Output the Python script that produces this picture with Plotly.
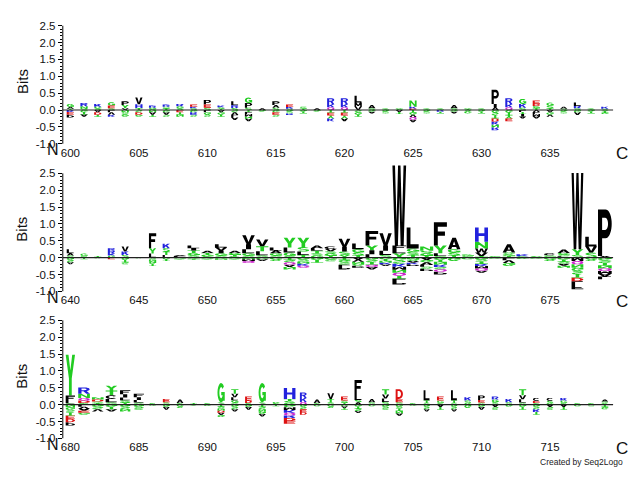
import math
import plotly.graph_objects as go

# ---------------- data ----------------
panel_starts = [600, 640, 680]
x_tick_vals = [[600, 605, 610, 615, 620, 625, 630, 635],
               [640, 645, 650, 655, 660, 665, 670, 675],
               [680, 685, 690, 695, 700, 705, 710, 715]]
y_tick_vals = [-1.0, -0.5, 0.0, 0.5, 1.0, 1.5, 2.0, 2.5]
y_tick_text = ["-1.0", "-0.5", "0.0", "0.5", "1.0", "1.5", "2.0", "2.5"]
y_minor_vals = [-0.9, -0.8, -0.7, -0.6, -0.4, -0.3, -0.2, -0.1, 0.1, 0.2, 0.3, 0.4,
                0.6, 0.7, 0.8, 0.9, 1.1, 1.2, 1.3, 1.4, 1.6, 1.7, 1.8, 1.9,
                2.1, 2.2, 2.3, 2.4]

# positive stacks (bottom -> top) and negative stacks (zero -> down), positions 600-639
p1_pos_letters = ["TAG", "SNR", "SGK", "SEG", "VYP", "THV", "SGR", "TSR", "SGR", "SKE",
                  "SEP", "TSK", "SRL", "SPG", "A", "SAP", "SKE", "TS", "A", "QKR",
                  "QKR", "VML", "SA", "TS", "SG", "EKN", "TS", "TS", "SA", "TG",
                  "TS", "AIP", "QKR", "SKG", "TGDE", "TSG", "SA", "SRL", "TS", "SK"]
p1_pos_bits = [[.04, .05, .09], [.04, .07, .10], [.05, .05, .08], [.05, .08, .10], [.05, .10, .11],
               [.06, .11, .20], [.03, .04, .06], [.05, .05, .06], [.05, .06, .07], [.05, .05, .06],
               [.07, .09, .14], [.04, .04, .05], [.06, .08, .12], [.07, .14, .16], [.05],
               [.07, .08, .11], [.04, .05, .07], [.04, .06], [.05], [.08, .09, .18],
               [.08, .09, .18], [.10, .12, .20], [.05, .10], [.02, .03], [.02, .03],
               [.04, .06, .18], [.02, .03], [.02, .03], [.05, .10], [.02, .03],
               [.02, .03], [.08, .10, .42], [.08, .09, .18], [.07, .11, .15], [.06, .06, .06, .10],
               [.05, .08, .09], [.04, .06], [.05, .07, .10], [.02, .03], [.04, .06]]
p1_neg_letters = ["KEP", "GTA", "ADT", "LVK", "NSG", "SDG", "NAT", "GAS", "ETN", "GRS",
                  "LGS", "AGT", "SVLA", "TLMNA", "G", "GES", "GSR", "GT", "G", "TEYK",
                  "TEYA", "SGT", "GA", "GS", "AT", "TGVQA", "GS", "RT", "GA", "SG",
                  "GT", "GSTDKNR", "GTYE", "LTIA", "VLMA", "AGV", "GS", "GA", "GT", "STG"]
p1_neg_bits = [[.06, .07, .09], [.07, .06, .07], [.07, .07, .06], [.07, .07, .06], [.07, .07, .06],
               [.07, .07, .06], [.07, .07, .06], [.07, .07, .06], [.07, .07, .06], [.07, .07, .06],
               [.07, .07, .06], [.07, .07, .06], [.07, .07, .08, .08], [.06, .06, .07, .07, .07], [.05],
               [.07, .07, .06], [.05, .05, .05], [.05, .05], [.05], [.08, .08, .09, .08],
               [.08, .08, .09, .08], [.07, .07, .06], [.05, .05], [.05, .05], [.06, .06],
               [.07, .07, .07, .08, .07], [.05, .05], [.05, .05], [.05, .05], [.05, .05],
               [.05, .05], [.08, .08, .09, .09, .09, .09, .08], [.08, .08, .09, .08], [.06, .06, .07, .06],
               [.06, .06, .07, .06], [.07, .07, .06], [.05, .05], [.07, .08], [.05, .05], [.04, .04, .04]]
p1_col_frac = [0.53] * 40

# positions 640-679
p2_pos_letters = ["SAL", "SG", "T", "GKRR", "SKV", "S", "LYF", "LTSK", "SLA", "SGTIL",
                  "SGTA", "SGIVL", "STGA", "SGLIV", "SLTV", "SGAL", "SGLY", "TLSY", "GSTLA", "TGSVC",
                  "YSIV", "TSGL", "LIYF", "SLIV", "YLFW", "TSGL", "TGSN", "SLYF", "TSGA", "SG",
                  "TVWNH", "S", "TGSA", "SK", "TS", "SGC", "LSGA", "SYW", "SVL", "AP"]
p2_pos_bits = [[.06, .07, .12], [.05, .07], [.05], [.06, .07, .07, .08], [.08, .10, .15],
               [.02], [.12, .16, .44], [.08, .10, .10, .13], [.02, .03, .03], [.07, .07, .07, .07, .08],
               [.04, .05, .05, .06], [.06, .07, .08, .09, .10], [.04, .05, .05, .06], [.06, .07, .12, .15, .26],
               [.07, .12, .15, .20], [.06, .07, .08, .09], [.05, .10, .15, .29], [.08, .10, .13, .28],
               [.06, .07, .07, .08, .08], [.06, .06, .07, .07, .07],
               [.08, .10, .14, .24], [.07, .08, .10, .17], [.10, .12, .14, .43], [.08, .12, .16, .36],
               [.13, .10, .13, 2.37], [.08, .09, .10, .62], [.06, .07, .07, .13], [.05, .08, .23, .69],
               [.07, .08, .10, .34], [.05, .05],
               [.05, .10, .12, .20, .42], [.05], [.05, .05, .05, .25], [.04, .06], [.02, .03],
               [.03, .04, .06], [.04, .05, .05, .10], [.08, .17, 2.26], [.15, .18, .29], [.05, 1.38]]
p2_neg_letters = ["GSA", "T", "G", "E", "GTS", "G", "SNGT", "GT", "GS", "GT",
                  "GS", "GN", "GS", "NMQ", "GA", "GS", "TSQAN", "GSNKQ", "GT", "GS",
                  "TGSLP", "AVNGP", "GSTQA", "GTNKA", "GSKMNQTLP", "NSAKP", "AGVLSP", "GTNKSQP", "G", "G",
                  "GSTKMQA", "G", "LVG", "G", "G", "GS", "GTSAN", "MQNGSTDLF", "GS", "GSTNQMAL"]
p2_neg_bits = [[.07, .07, .06], [.05], [.02], [.05], [.07, .07, .06],
               [.02], [.06, .06, .07, .06], [.05, .05], [.03, .03], [.03, .03],
               [.03, .03], [.03, .03], [.03, .03], [.05, .05, .06], [.05, .05],
               [.05, .05], [.07, .07, .07, .07, .07], [.06, .06, .06, .06, .06], [.07, .08], [.05, .06],
               [.07, .07, .07, .07, .07], [.06, .06, .06, .06, .06], [.07, .07, .07, .07, .07],
               [.05, .05, .05, .05, .05], [.09, .09, .09, .09, .09, .09, .09, .09, .08],
               [.05, .05, .05, .05, .05], [.07, .07, .07, .06, .06, .07], [.07, .07, .07, .07, .07, .07, .08],
               [.10], [.05],
               [.06, .06, .07, .06, .07, .07, .06], [.03], [.08, .08, .09], [.04], [.03],
               [.05, .05], [.06, .06, .06, .06, .06], [.10, .10, .10, .10, .10, .10, .10, .12, .12],
               [.05, .05], [.08, .08, .08, .08, .08, .08, .08, .08]]
p2_col_frac = [0.53, 0.53, 0.53, 0.53, 0.53, 0.53, 0.53, 0.53, 0.9, 0.9,
               0.9, 0.9, 0.9, 0.92, 0.9, 0.9, 0.88, 0.88, 0.9, 0.9,
               0.86, 0.88, 0.92, 0.9, 1.0, 0.92, 0.95, 0.95, 0.92, 0.9,
               0.95, 0.9, 0.92, 0.9, 0.9, 0.9, 0.9, 0.86, 0.86, 1.0]

# positions 680-719
p3_pos_letters = ["SLFY", "SDQNR", "TSDN", "SLCTY", "TSLIF", "SLIF", "S", "SE", "SA", "T",
                  "S", "ASG", "SGLVT", "SDE", "ASG", "SG", "GSTH", "QKR", "SA", "STV",
                  "TSE", "ASLF", "SA", "SLVT", "SED", "S", "STL", "SGE", "STL", "GSK",
                  "SEP", "SGR", "SK", "SLVT", "SEC", "GSC", "SGK", "S", "S", "GSA"]
p3_pos_bits = [[.04, .06, .17, 1.21], [.05, .07, .08, .12, .19], [.04, .05, .06, .07],
               [.07, .10, .11, .14, .14], [.06, .07, .08, .10, .12], [.06, .08, .08, .10], [.05],
               [.07, .10], [.05, .10], [.05],
               [.05], [.03, .04, .57], [.06, .07, .09, .10, .14], [.05, .07, .12], [.03, .04, .57],
               [.04, .04], [.05, .06, .06, .32], [.08, .12, .16], [.05, .10], [.07, .10, .17],
               [.06, .06, .12], [.07, .07, .14, .45], [.07, .10], [.08, .10, .12, .16], [.07, .10, .29],
               [.05], [.06, .07, .30], [.05, .07, .12], [.06, .07, .30], [.05, .07, .10],
               [.06, .08, .13], [.07, .08, .09], [.07, .10], [.06, .10, .12, .18], [.05, .06, .09],
               [.05, .06, .09], [.05, .07, .08], [.05], [.05], [.04, .05, .06]]
p3_neg_letters = ["NGSTEDP", "LVAEG", "GSV", "GTA", "GSN", "GS", "G", "GA", "GS", "S",
                  "G", "TSNDAG", "GSA", "GA", "TSNGA", "T", "GMKQRDE", "GSED", "G", "GS",
                  "GAT", "GTSA", "G", "GS", "GSTNA", "G", "GSA", "AT", "GSA", "G",
                  "GA", "AS", "G", "GT", "GSKT", "AS", "AT", "G", "S", "TG"]
p3_neg_bits = [[.08, .08, .08, .09, .09, .10, .10], [.06, .06, .06, .06, .06], [.07, .07, .06],
               [.07, .07, .06], [.07, .07, .06], [.07, .08], [.03], [.07, .08], [.05, .05], [.03],
               [.04], [.06, .06, .06, .06, .07, .06], [.07, .07, .06], [.07, .08], [.07, .07, .07, .07, .07],
               [.05], [.08, .08, .08, .08, .08, .08, .09], [.07, .07, .08, .08], [.05], [.05, .05],
               [.05, .05, .05], [.06, .06, .07, .06], [.05], [.07, .08], [.06, .06, .07, .07, .07],
               [.03], [.07, .07, .06], [.07, .08], [.07, .07, .06], [.10],
               [.07, .08], [.07, .08], [.06], [.07, .08], [.07, .07, .08, .08],
               [.07, .08], [.07, .08], [.05], [.05], [.07, .07]]
p3_col_frac = [0.68, 0.85, 0.85, 0.85, 0.75, 0.75, 0.5, 0.5, 0.5, 0.5,
               0.5, 0.53, 0.53, 0.5, 0.53, 0.5, 0.85, 0.5, 0.5, 0.5,
               0.5, 0.53, 0.5, 0.53, 0.53, 0.5, 0.45, 0.5, 0.45, 0.5,
               0.5, 0.5, 0.5, 0.53, 0.5, 0.5, 0.5, 0.5, 0.5, 0.5]

letter_colors = {
    "A": "#000000", "C": "#000000", "F": "#000000", "I": "#000000", "L": "#000000",
    "M": "#000000", "P": "#000000", "V": "#000000", "W": "#000000",
    "G": "#22cc22", "N": "#22cc22", "S": "#22cc22", "T": "#22cc22", "Y": "#22cc22",
    "Q": "#cc22cc",
    "H": "#2222dd", "K": "#2222dd", "R": "#2222dd",
    "D": "#dd1111", "E": "#dd1111",
}

# ---------------- glyph outlines (unit box) ----------------
def arc(cx, cy, rx, ry, a0, a1, n=18):
    pts = []
    for i in range(n + 1):
        t = math.radians(a0 + (a1 - a0) * i / n)
        pts.append((cx + rx * math.cos(t), cy + ry * math.sin(t)))
    return pts


def band(cx, cy, rxo, ryo, rxi, ryi, a0, a1):
    return arc(cx, cy, rxo, ryo, a0, a1) + arc(cx, cy, rxi, ryi, a1, a0)


def rect(x0, y0, x1, y1):
    return [(x0, y0), (x1, y0), (x1, y1), (x0, y1)]


def area(poly):
    s = 0.0
    for i in range(len(poly)):
        x0, y0 = poly[i]
        x1, y1 = poly[(i + 1) % len(poly)]
        s += x0 * y1 - x1 * y0
    return s / 2


def solid(poly):
    return poly if area(poly) > 0 else poly[::-1]


def hole(poly):
    return poly if area(poly) < 0 else poly[::-1]


GLYPHS = {
    "A": [solid([(0, 0), (0.27, 0), (0.34, 0.2), (0.66, 0.2), (0.73, 0), (1, 0), (0.64, 1), (0.36, 1)]),
          hole([(0.40, 0.37), (0.60, 0.37), (0.5, 0.7)])],
    "C": [solid(band(0.5, 0.5, 0.5, 0.5, 0.25, 0.29, 38, 322))],
    "D": [solid([(0, 0), (0.45, 0)] + arc(0.45, 0.5, 0.55, 0.5, -90, 90)[1:-1] + [(0.45, 1), (0, 1)]),
          hole([(0.27, 0.19), (0.45, 0.19)] + arc(0.45, 0.5, 0.28, 0.31, -90, 90)[1:-1] + [(0.45, 0.81), (0.27, 0.81)])],
    "E": [solid(rect(0, 0, 0.28, 1)), solid(rect(0, 0, 1, 0.2)), solid(rect(0, 0.41, 0.9, 0.59)),
          solid(rect(0, 0.8, 0.98, 1))],
    "F": [solid(rect(0, 0, 0.3, 1)), solid(rect(0, 0.42, 0.85, 0.6)), solid(rect(0, 0.8, 1, 1))],
    "G": [solid(band(0.5, 0.5, 0.5, 0.5, 0.24, 0.29, 40, 350)), solid(rect(0.52, 0.36, 1.0, 0.54)),
          solid(rect(0.76, 0.08, 1.0, 0.54))],
    "H": [solid(rect(0, 0, 0.28, 1)), solid(rect(0.72, 0, 1, 1)), solid(rect(0, 0.4, 1, 0.6))],
    "I": [solid(rect(0.3, 0, 0.7, 1))],
    "K": [solid(rect(0, 0, 0.28, 1)), solid([(0.28, 0.28), (1.0, 1.0), (0.66, 1.0), (0.28, 0.62)]),
          solid([(0.4, 0.52), (0.7, 0), (1.0, 0), (0.6, 0.68)])],
    "L": [solid(rect(0, 0, 0.3, 1)), solid(rect(0, 0, 0.95, 0.2))],
    "M": [solid(rect(0, 0, 0.22, 1)), solid(rect(0.78, 0, 1, 1)),
          solid([(0.02, 1), (0.26, 1), (0.6, 0.15), (0.4, 0.15)]),
          solid([(0.98, 1), (0.74, 1), (0.4, 0.15), (0.6, 0.15)])],
    "N": [solid(rect(0, 0, 0.25, 1)), solid(rect(0.75, 0, 1, 1)),
          solid([(0, 1), (0.27, 1), (1, 0), (0.73, 0)])],
    "P": [solid([(0, 0), (0.3, 0), (0.3, 0.38), (0.55, 0.38)] + arc(0.55, 0.69, 0.45, 0.31, -90, 90)[1:-1]
                + [(0.55, 1), (0, 1)]),
          hole([(0.3, 0.56), (0.53, 0.56)] + arc(0.53, 0.69, 0.2, 0.13, -90, 90)[1:-1] + [(0.53, 0.82), (0.3, 0.82)])],
    "Q": [solid(arc(0.5, 0.5, 0.5, 0.5, 0, 360, 28)[:-1]), hole(arc(0.5, 0.5, 0.25, 0.3, 0, 360, 28)[:-1]),
          solid([(0.52, 0.28), (0.7, 0.4), (1.0, 0.08), (0.82, -0.02)])],
    "R": [solid([(0, 0), (0.28, 0), (0.28, 0.42), (0.55, 0.42)] + arc(0.55, 0.71, 0.43, 0.29, -90, 90)[1:-1]
                + [(0.55, 1), (0, 1)]),
          hole([(0.28, 0.58), (0.52, 0.58)] + arc(0.52, 0.71, 0.2, 0.12, -90, 90)[1:-1] + [(0.52, 0.83), (0.28, 0.83)]),
          solid([(0.42, 0.45), (0.72, 0.45), (1, 0), (0.7, 0)])],
    "S": [solid(band(0.5, 0.72, 0.48, 0.28, 0.22, 0.1, 25, 270)),
          solid(band(0.5, 0.28, 0.48, 0.28, 0.22, 0.1, 90, -155))],
    "T": [solid(rect(0, 0.8, 1, 1)), solid(rect(0.35, 0, 0.65, 1))],
    "V": [solid([(0, 1), (0.28, 1), (0.5, 0.25), (0.72, 1), (1, 1), (0.65, 0), (0.35, 0)])],
    "W": [solid([(0, 1), (0.19, 1), (0.3, 0.28), (0.41, 1), (0.59, 1), (0.7, 0.28), (0.81, 1), (1, 1),
                 (0.82, 0), (0.6, 0), (0.5, 0.62), (0.4, 0), (0.18, 0)])],
    "Y": [solid([(0, 1), (0.3, 1), (0.5, 0.62), (0.7, 1), (1, 1), (0.65, 0.42), (0.65, 0), (0.35, 0),
                 (0.35, 0.42)])],
}


def add_letter(store, ch, xc, w, y0, h, flip=False):
    col = letter_colors[ch]
    xs, ys = store.setdefault(col, ([], []))
    for poly in GLYPHS[ch]:
        for (u, v) in poly:
            if flip:
                v = 1 - v
            xs.append(xc - w / 2 + u * w)
            ys.append(y0 + v * h)
        xs.append(None)
        ys.append(None)


panels = [
    (p1_pos_letters, p1_pos_bits, p1_neg_letters, p1_neg_bits, p1_col_frac),
    (p2_pos_letters, p2_pos_bits, p2_neg_letters, p2_neg_bits, p2_col_frac),
    (p3_pos_letters, p3_pos_bits, p3_neg_letters, p3_neg_bits, p3_col_frac),
]

FONT = "Liberation Sans, Arial, Helvetica, sans-serif"
W, H = 640, 480
VFIX = 1.01   # small vertical correction of the layout targets
zero_px = [110.3 * VFIX, 258.3 * VFIX, 405.7 * VFIX]
px_per_bit = 33.8 * VFIX
y_lo, y_hi = -1.01, 2.85
x_left_px, x_right_px = 61, 613

fig = go.Figure()
shapes = []
annotations = []
layout = {}

for i, (pl, pb, nl, nb, cw) in enumerate(panels):
    start = panel_starts[i]
    store = {}
    for k in range(len(pl)):
        xc = start + k
        cum = 0.0
        for ch, h in zip(pl[k], pb[k]):
            add_letter(store, ch, xc, cw[k], cum, h)
            cum += h
        cum = 0.0
        for ch, h in zip(nl[k], nb[k]):
            add_letter(store, ch, xc, cw[k], -cum - h, h, flip=True)
            cum += h
    sfx = "" if i == 0 else str(i + 1)
    for col, (xs, ys) in store.items():
        fig.add_trace(go.Scatter(x=xs, y=ys, mode="lines", fill="toself", fillcolor=col,
                                 line=dict(width=0, color=col, simplify=False), hoverinfo="skip",
                                 showlegend=False, xaxis="x" + sfx, yaxis="y" + sfx))
    top_px = zero_px[i] - y_hi * px_per_bit
    bot_px = zero_px[i] - y_lo * px_per_bit
    layout["xaxis" + sfx] = dict(
        domain=[x_left_px / W, x_right_px / W], range=[start - 0.55, start + 39.6],
        tickvals=x_tick_vals[i], ticktext=[str(v) for v in x_tick_vals[i]],
        ticks="", showline=False, showgrid=False, zeroline=False, anchor="y" + sfx,
        tickfont=dict(family=FONT, size=11.5, color="#111"), fixedrange=True)
    layout["yaxis" + sfx] = dict(
        domain=[1 - bot_px / H, 1 - top_px / H], range=[y_lo, y_hi],
        tickvals=y_tick_vals, ticktext=y_tick_text, ticks="outside", ticklen=4,
        tickcolor="black", tickwidth=1,
        minor=dict(tickvals=y_minor_vals, ticks="outside", ticklen=2, tickcolor="black", tickwidth=1),
        showline=False, showgrid=False, zeroline=False, anchor="x" + sfx,
        tickfont=dict(family=FONT, size=11.5, color="#111"), fixedrange=True)
    xref = "x" + sfx
    yref = "y" + sfx
    shapes.append(dict(type="line", xref=xref + " domain", yref=yref, x0=0, x1=0, y0=-1.0, y1=2.5,
                       line=dict(color="black", width=1)))
    shapes.append(dict(type="line", xref=xref + " domain", yref=yref, x0=0, x1=1, y0=0, y1=0,
                       line=dict(color="#222", width=1.2), layer="above"))
    # labels
    annotations.append(dict(text="Bits", x=20 / W, y=1 - (zero_px[i] - 29 * VFIX) / H, xref="paper", yref="paper",
                            textangle=-90, showarrow=False, font=dict(family=FONT, size=15, color="#111"),
                            xanchor="center", yanchor="middle"))
    annotations.append(dict(text="N", x=51.5 / W, y=1 - (zero_px[i] + 40 * VFIX) / H, xref="paper", yref="paper",
                            showarrow=False, font=dict(family=FONT, size=16, color="#111"),
                            xanchor="center", yanchor="middle"))
    annotations.append(dict(text="C", x=622 / W, y=1 - (zero_px[i] + 44 * VFIX) / H, xref="paper", yref="paper",
                            showarrow=False, font=dict(family=FONT, size=17, color="#111"),
                            xanchor="center", yanchor="middle"))

annotations.append(dict(text="Created by Seq2Logo", x=625 / W, y=1 - 463.5 * VFIX / H, xref="paper", yref="paper",
                        showarrow=False, font=dict(family=FONT, size=8.5, color="#222"),
                        xanchor="right", yanchor="middle"))

fig.update_layout(width=W, height=H, margin=dict(l=0, r=0, t=0, b=0),
                  paper_bgcolor="white", plot_bgcolor="white",
                  shapes=shapes, annotations=annotations, showlegend=False, **layout)

fig.write_html("out.html", config={"displayModeBar": False})
